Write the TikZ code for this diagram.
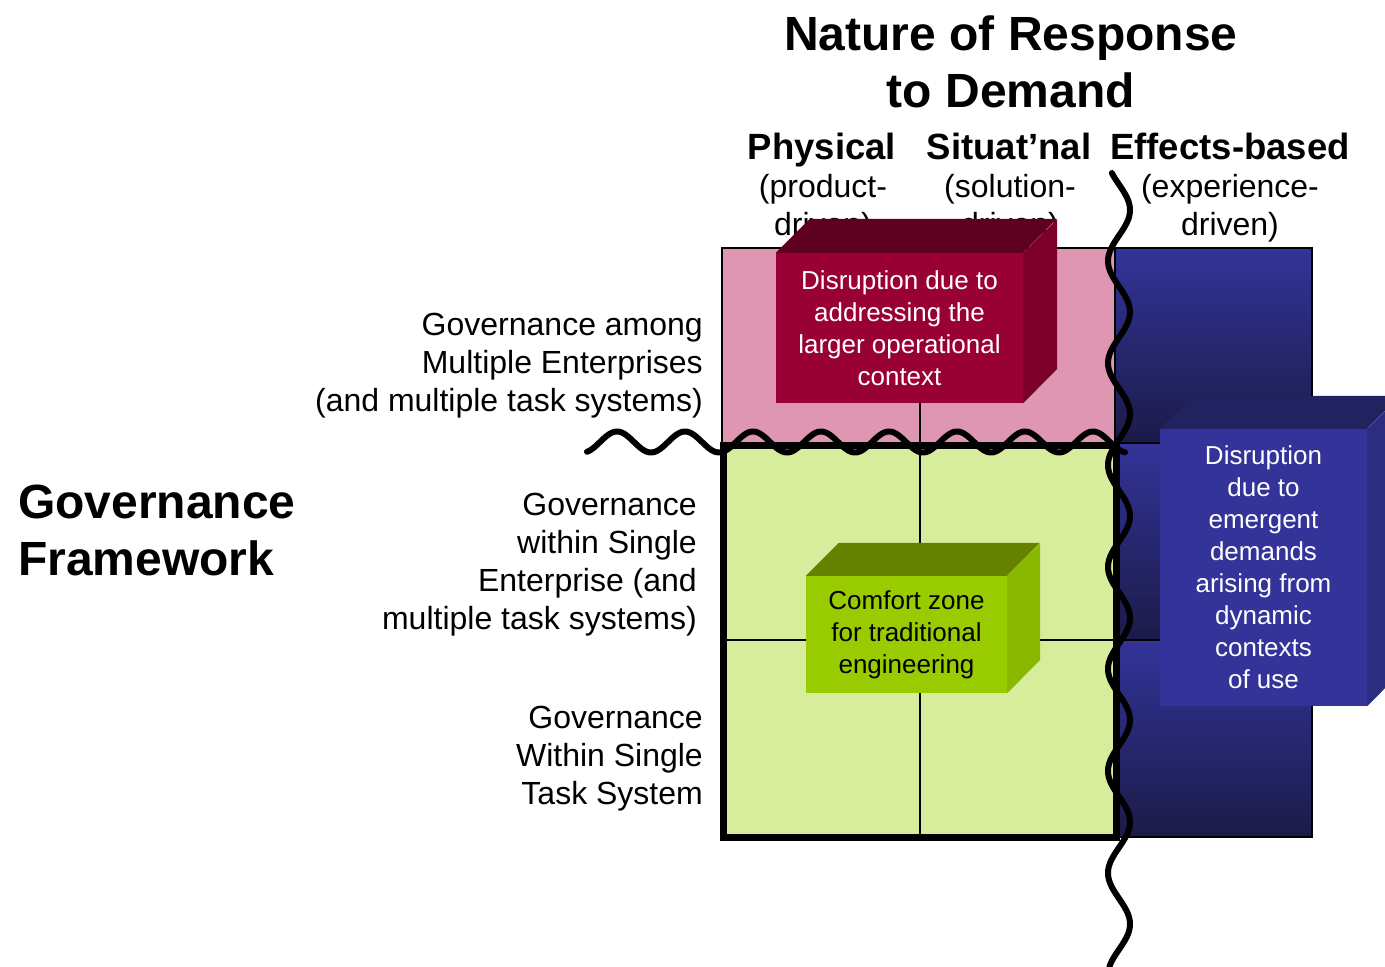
\documentclass[tikz,border=0pt]{standalone}
\usepackage{fontspec}
\setmainfont{Liberation Sans}
\usepackage{graphicx}
\definecolor{pinkfill}{RGB}{222,150,178}
\definecolor{greenfill}{RGB}{216,237,156}
\definecolor{bluetop}{RGB}{51,51,153}
\definecolor{bluebot}{RGB}{27,27,72}
\definecolor{redfront}{RGB}{153,0,51}
\definecolor{redtop}{RGB}{94,0,32}
\definecolor{redside}{RGB}{125,0,42}
\definecolor{grnfront}{RGB}{153,204,0}
\definecolor{grntop}{RGB}{102,128,0}
\definecolor{grnside}{RGB}{138,184,0}
\definecolor{blufront}{RGB}{51,51,153}
\definecolor{blutop}{RGB}{34,34,96}
\definecolor{bluside}{RGB}{44,44,128}
\begin{document}
\begin{tikzpicture}[x=1pt,y=-1pt,
  thinline/.style={line width=1.5pt, line cap=rect},
  wave/.style={line width=6pt, line cap=round, line join=round},
  titletext/.style={font=\fontsize{48}{57}\selectfont\bfseries, align=center, inner sep=0},
  hdr/.style={font=\fontsize{36.5}{44}\selectfont\bfseries, inner sep=0},
  sub/.style={font=\fontsize{32}{38}\selectfont, align=center, inner sep=0},
  rowlbl/.style={font=\fontsize{32}{38}\selectfont, align=right, inner sep=0},
  biglbl/.style={font=\fontsize{48}{57}\selectfont\bfseries, align=left, inner sep=0},
  boxtext/.style={font=\fontsize{26}{32}\selectfont, align=center, inner sep=0},
]
\useasboundingbox (0,0) rectangle (1385,967);

% --- matrix cells ---
\fill[pinkfill] (722,248) rectangle (1115,443);
\fill[greenfill] (722,443) rectangle (1115,837);
\shade[top color=bluetop, bottom color=bluebot] (1115,248) rectangle (1312,443);
\shade[top color=bluetop, bottom color=bluebot] (1115,443) rectangle (1312,640);
\shade[top color=bluetop, bottom color=bluebot] (1115,640) rectangle (1312,837);

% --- thin grid lines ---
\draw[thinline] (722,443) -- (722,248) -- (1312,248) -- (1312,837) -- (1115,837);
\draw[thinline] (1115,248) -- (1115,837);
\draw[thinline] (920,248) -- (920,837);
\draw[thinline] (722,640) -- (1312,640);
\draw[thinline] (1115,443) -- (1312,443);

% --- thick frame round the comfort area ---
\draw[line width=7pt] (723.5,445) rectangle (1116.5,837);

% --- titles and labels (base anchor = baseline of last line) ---
\node[titletext, anchor=base] (title) at (1011,107) {Nature of Response\\to Demand};
\node[hdr, anchor=base] (hphys) at (822,159) {Physical};
\node[hdr, anchor=base] (hsit) at (1009,159) {Situat’nal};
\node[hdr, anchor=base] (heff) at (1230,159) {Effects-based};
\node[sub, anchor=base] (sphys) at (823,235) {(product-\\driven)};
\node[sub, anchor=base] (ssit) at (1010,235) {(solution-\\driven)};
\node[sub, anchor=base] (seff) at (1230,235) {(experience-\\driven)};

\node[rowlbl, anchor=base east] (rowa) at (703,411) {Governance among\\Multiple Enterprises\\(and multiple task systems)};
\node[rowlbl, anchor=base east] (rowb) at (697,629) {Governance\\within Single\\Enterprise (and\\multiple task systems)};
\node[rowlbl, anchor=base east] (rowc) at (703,804) {Governance\\Within Single\\Task System};
\node[biglbl, anchor=base west] (gf) at (18,575) {Governance\\Framework};

% --- red box ---
\node[boxtext, fill=redfront, text=white, minimum width=247pt, minimum height=150pt] (rbox) at (899.5,328)
  {Disruption due to\\addressing the\\larger operational\\context};
\fill[redtop] (rbox.north west) -- ++(34,-34) -- ++(247,0) -- (rbox.north east) -- cycle;
\fill[redside] (rbox.north east) -- ++(34,-34) -- ++(0,150) -- (rbox.south east) -- cycle;

% --- green box ---
\node[boxtext, fill=grnfront, text=black, minimum width=201pt, minimum height=117pt] (gbox) at (906.5,634.5)
  {Comfort zone\\for traditional\\engineering};
\fill[grntop] (gbox.north west) -- ++(33,-33) -- ++(201,0) -- (gbox.north east) -- cycle;
\fill[grnside] (gbox.north east) -- ++(33,-33) -- ++(0,117) -- (gbox.south east) -- cycle;

% --- blue box ---
\node[boxtext, fill=blufront, text=white, minimum width=207pt, minimum height=277pt] (bbox) at (1263.5,567.5)
  {Disruption\\due to\\emergent\\demands\\arising from\\dynamic\\contexts\\of use};
\fill[blutop] (bbox.north west) -- ++(33,-33) -- ++(207,0) -- (bbox.north east) -- cycle;
\fill[bluside] (bbox.north east) -- ++(33,-33) -- ++(0,277) -- (bbox.south east) -- cycle;

% --- wavy boundaries ---
\draw[wave] plot[domain=587:1125, samples=260] (\x, {442 - 10.5*cos((\x-617)/68*360)});
\draw[wave] plot[domain=173:967, samples=360] ({1119 + 11*cos((\x-210)/102*360)}, \x);
\end{tikzpicture}
\end{document}
